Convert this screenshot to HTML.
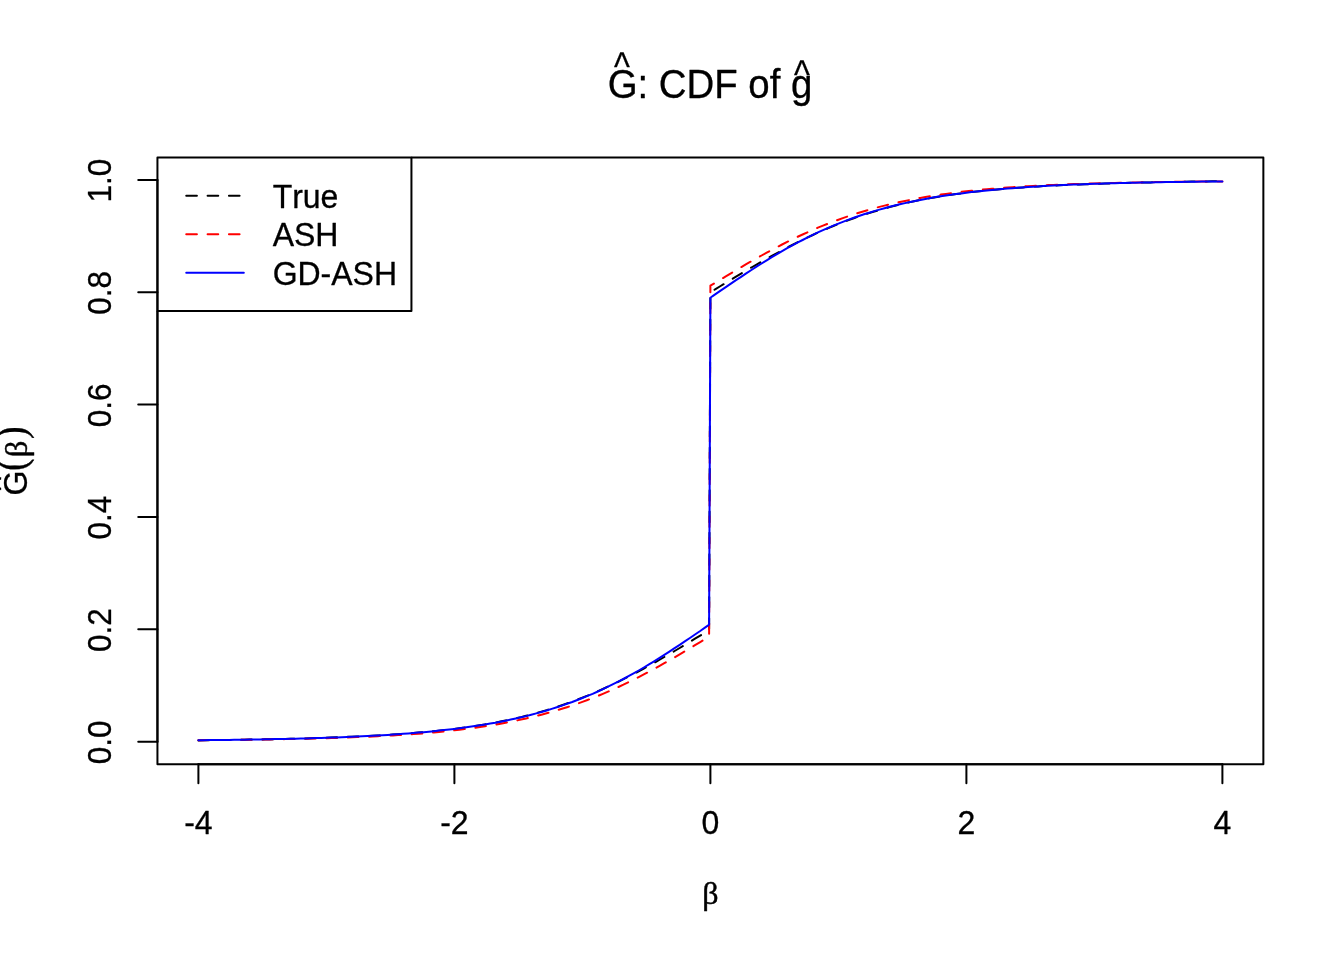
<!DOCTYPE html>
<html><head><meta charset="utf-8"><title>CDF plot</title>
<style>
html,body{margin:0;padding:0;background:#fff}
svg{display:block}
text{font-family:"Liberation Sans",sans-serif;fill:#000;stroke:#000;stroke-width:.3px;stroke-linejoin:round;font-kerning:none}
.sym{font-family:"Liberation Serif",serif;stroke-width:.45px}
.ln{fill:none;stroke-width:2;stroke-linecap:round;stroke-linejoin:round}
</style></head><body>
<svg width="1344" height="960" viewBox="0 0 1344 960">
<rect width="1344" height="960" fill="#fff"/>
<path class="ln" stroke="#000" stroke-dasharray="10.67 10.67" d="M198.4 740.4L203.5 740.3L208.6 740.3L213.8 740.2L218.9 740.1L224.0 740.1L229.1 740.0L234.2 739.9L239.4 739.8L244.5 739.7L249.6 739.6L254.7 739.5L259.8 739.5L265.0 739.3L270.1 739.2L275.2 739.1L280.3 739.0L285.4 738.9L290.6 738.8L295.7 738.6L300.8 738.5L305.9 738.4L311.0 738.2L316.2 738.0L321.3 737.9L326.4 737.7L331.5 737.5L336.6 737.3L341.8 737.1L346.9 736.9L352.0 736.7L357.1 736.5L362.2 736.3L367.4 736.0L372.5 735.7L377.6 735.5L382.7 735.2L387.8 734.9L393.0 734.5L398.1 734.2L403.2 733.8L408.3 733.5L413.4 733.1L418.6 732.6L423.7 732.2L428.8 731.7L433.9 731.2L439.0 730.7L444.2 730.1L449.3 729.6L454.4 728.9L459.5 728.3L464.6 727.6L469.8 726.9L474.9 726.1L480.0 725.3L485.1 724.4L490.2 723.5L495.4 722.6L500.5 721.6L505.6 720.6L510.7 719.5L515.8 718.3L521.0 717.1L526.1 715.8L531.2 714.5L536.3 713.1L541.4 711.6L546.6 710.1L551.7 708.5L556.8 706.9L561.9 705.2L567.0 703.4L572.2 701.5L577.3 699.6L582.4 697.6L587.5 695.6L592.6 693.4L597.8 691.2L602.9 689.0L608.0 686.6L613.1 684.2L618.2 681.8L623.4 679.2L628.5 676.6L633.6 674.0L638.7 671.3L643.8 668.5L649.0 665.7L654.1 662.9L659.2 660.0L664.3 657.0L669.4 654.1L674.6 651.0L679.7 648.0L684.8 644.9L689.9 641.8L695.0 638.7L700.2 635.6L705.3 632.5L707.8 630.9L709.1 630.1L710.4 292.3L711.7 291.5L713.0 290.7L715.5 289.1L720.6 286.0L725.8 282.9L730.9 279.8L736.0 276.7L741.1 273.6L746.2 270.6L751.4 267.5L756.5 264.6L761.6 261.6L766.7 258.7L771.8 255.9L777.0 253.1L782.1 250.3L787.2 247.6L792.3 245.0L797.4 242.4L802.6 239.8L807.7 237.4L812.8 235.0L817.9 232.6L823.0 230.4L828.2 228.2L833.3 226.0L838.4 224.0L843.5 222.0L848.6 220.1L853.8 218.2L858.9 216.4L864.0 214.7L869.1 213.1L874.2 211.5L879.4 210.0L884.5 208.5L889.6 207.1L894.7 205.8L899.8 204.5L905.0 203.3L910.1 202.1L915.2 201.0L920.3 200.0L925.4 199.0L930.6 198.1L935.7 197.2L940.8 196.3L945.9 195.5L951.0 194.7L956.2 194.0L961.3 193.3L966.4 192.7L971.5 192.0L976.6 191.5L981.8 190.9L986.9 190.4L992.0 189.9L997.1 189.4L1002.2 189.0L1007.4 188.5L1012.5 188.1L1017.6 187.8L1022.7 187.4L1027.8 187.1L1033.0 186.7L1038.1 186.4L1043.2 186.1L1048.3 185.9L1053.4 185.6L1058.6 185.3L1063.7 185.1L1068.8 184.9L1073.9 184.7L1079.0 184.5L1084.2 184.3L1089.3 184.1L1094.4 183.9L1099.5 183.7L1104.6 183.6L1109.8 183.4L1114.9 183.2L1120.0 183.1L1125.1 183.0L1130.2 182.8L1135.4 182.7L1140.5 182.6L1145.6 182.5L1150.7 182.4L1155.8 182.3L1161.0 182.1L1166.1 182.1L1171.2 182.0L1176.3 181.9L1181.4 181.8L1186.6 181.7L1191.7 181.6L1196.8 181.5L1201.9 181.5L1207.0 181.4L1212.2 181.3L1217.3 181.3L1222.4 181.2"/>
<path class="ln" stroke="#f00" stroke-dasharray="10.67 10.67" d="M198.4 740.2L203.5 740.2L208.6 740.1L213.8 740.1L218.9 740.0L224.0 740.0L229.1 739.9L234.2 739.9L239.4 739.8L244.5 739.8L249.6 739.7L254.7 739.6L259.8 739.6L265.0 739.5L270.1 739.4L275.2 739.3L280.3 739.2L285.4 739.1L290.6 739.0L295.7 738.9L300.8 738.8L305.9 738.7L311.0 738.6L316.2 738.5L321.3 738.3L326.4 738.2L331.5 738.0L336.6 737.9L341.8 737.7L346.9 737.5L352.0 737.3L357.1 737.1L362.2 736.9L367.4 736.7L372.5 736.5L377.6 736.2L382.7 736.0L387.8 735.7L393.0 735.4L398.1 735.1L403.2 734.8L408.3 734.4L413.4 734.0L418.6 733.7L423.7 733.3L428.8 732.8L433.9 732.4L439.0 731.9L444.2 731.4L449.3 730.9L454.4 730.3L459.5 729.7L464.6 729.1L469.8 728.4L474.9 727.7L480.0 727.0L485.1 726.2L490.2 725.4L495.4 724.6L500.5 723.7L505.6 722.7L510.7 721.7L515.8 720.7L521.0 719.6L526.1 718.5L531.2 717.3L536.3 716.0L541.4 714.7L546.6 713.3L551.7 711.9L556.8 710.4L561.9 708.8L567.0 707.2L572.2 705.5L577.3 703.7L582.4 701.9L587.5 700.0L592.6 698.0L597.8 696.0L602.9 693.9L608.0 691.7L613.1 689.4L618.2 687.1L623.4 684.7L628.5 682.2L633.6 679.7L638.7 677.1L643.8 674.4L649.0 671.7L654.1 668.9L659.2 666.1L664.3 663.2L669.4 660.3L674.6 657.4L679.7 654.4L684.8 651.3L689.9 648.3L695.0 645.2L700.2 642.1L705.3 639.0L707.8 637.5L709.1 636.7L710.4 285.7L711.7 284.9L713.0 284.1L715.5 282.6L720.6 279.5L725.8 276.4L730.9 273.3L736.0 270.3L741.1 267.2L746.2 264.2L751.4 261.3L756.5 258.4L761.6 255.5L766.7 252.7L771.8 249.9L777.0 247.2L782.1 244.5L787.2 241.9L792.3 239.4L797.4 236.9L802.6 234.5L807.7 232.2L812.8 229.9L817.9 227.7L823.0 225.6L828.2 223.6L833.3 221.6L838.4 219.7L843.5 217.9L848.6 216.1L853.8 214.4L858.9 212.8L864.0 211.2L869.1 209.7L874.2 208.3L879.4 206.9L884.5 205.6L889.6 204.3L894.7 203.1L899.8 202.0L905.0 200.9L910.1 199.9L915.2 198.9L920.3 197.9L925.4 197.0L930.6 196.2L935.7 195.4L940.8 194.6L945.9 193.9L951.0 193.2L956.2 192.5L961.3 191.9L966.4 191.3L971.5 190.7L976.6 190.2L981.8 189.7L986.9 189.2L992.0 188.8L997.1 188.3L1002.2 187.9L1007.4 187.6L1012.5 187.2L1017.6 186.8L1022.7 186.5L1027.8 186.2L1033.0 185.9L1038.1 185.6L1043.2 185.4L1048.3 185.1L1053.4 184.9L1058.6 184.7L1063.7 184.5L1068.8 184.3L1073.9 184.1L1079.0 183.9L1084.2 183.7L1089.3 183.6L1094.4 183.4L1099.5 183.3L1104.6 183.1L1109.8 183.0L1114.9 182.9L1120.0 182.8L1125.1 182.7L1130.2 182.6L1135.4 182.5L1140.5 182.4L1145.6 182.3L1150.7 182.2L1155.8 182.1L1161.0 182.0L1166.1 182.0L1171.2 181.9L1176.3 181.8L1181.4 181.8L1186.6 181.7L1191.7 181.7L1196.8 181.6L1201.9 181.6L1207.0 181.5L1212.2 181.5L1217.3 181.4L1222.4 181.4"/>
<path class="ln" stroke="#00f" d="M198.4 740.2L203.5 740.2L208.6 740.1L213.8 740.1L218.9 740.0L224.0 739.9L229.1 739.9L234.2 739.8L239.4 739.7L244.5 739.7L249.6 739.6L254.7 739.5L259.8 739.4L265.0 739.3L270.1 739.2L275.2 739.1L280.3 739.0L285.4 738.9L290.6 738.8L295.7 738.7L300.8 738.5L305.9 738.4L311.0 738.3L316.2 738.1L321.3 737.9L326.4 737.8L331.5 737.6L336.6 737.4L341.8 737.2L346.9 737.0L352.0 736.8L357.1 736.6L362.2 736.3L367.4 736.1L372.5 735.8L377.6 735.5L382.7 735.2L387.8 734.9L393.0 734.6L398.1 734.2L403.2 733.8L408.3 733.4L413.4 733.0L418.6 732.6L423.7 732.2L428.8 731.7L433.9 731.2L439.0 730.6L444.2 730.1L449.3 729.5L454.4 728.9L459.5 728.2L464.6 727.6L469.8 726.8L474.9 726.1L480.0 725.3L485.1 724.5L490.2 723.6L495.4 722.7L500.5 721.7L505.6 720.7L510.7 719.6L515.8 718.5L521.0 717.3L526.1 716.1L531.2 714.8L536.3 713.4L541.4 712.0L546.6 710.5L551.7 708.9L556.8 707.3L561.9 705.6L567.0 703.8L572.2 702.0L577.3 700.0L582.4 698.0L587.5 695.9L592.6 693.8L597.8 691.5L602.9 689.2L608.0 686.7L613.1 684.2L618.2 681.6L623.4 679.0L628.5 676.2L633.6 673.4L638.7 670.5L643.8 667.5L649.0 664.4L654.1 661.3L659.2 658.1L664.3 654.9L669.4 651.6L674.6 648.2L679.7 644.8L684.8 641.4L689.9 638.0L695.0 634.5L700.2 631.0L705.3 627.4L707.8 625.7L709.1 624.8L710.4 297.7L711.7 296.8L713.0 295.9L715.5 294.2L720.6 290.6L725.8 287.1L730.9 283.6L736.0 280.2L741.1 276.8L746.2 273.4L751.4 270.0L756.5 266.7L761.6 263.5L766.7 260.3L771.8 257.2L777.0 254.1L782.1 251.1L787.2 248.2L792.3 245.4L797.4 242.6L802.6 240.0L807.7 237.4L812.8 234.9L817.9 232.4L823.0 230.1L828.2 227.8L833.3 225.7L838.4 223.6L843.5 221.6L848.6 219.6L853.8 217.8L858.9 216.0L864.0 214.3L869.1 212.7L874.2 211.1L879.4 209.6L884.5 208.2L889.6 206.8L894.7 205.5L899.8 204.3L905.0 203.1L910.1 202.0L915.2 200.9L920.3 199.9L925.4 198.9L930.6 198.0L935.7 197.1L940.8 196.3L945.9 195.5L951.0 194.8L956.2 194.0L961.3 193.4L966.4 192.7L971.5 192.1L976.6 191.5L981.8 191.0L986.9 190.4L992.0 189.9L997.1 189.4L1002.2 189.0L1007.4 188.6L1012.5 188.2L1017.6 187.8L1022.7 187.4L1027.8 187.0L1033.0 186.7L1038.1 186.4L1043.2 186.1L1048.3 185.8L1053.4 185.5L1058.6 185.3L1063.7 185.0L1068.8 184.8L1073.9 184.6L1079.0 184.4L1084.2 184.2L1089.3 184.0L1094.4 183.8L1099.5 183.7L1104.6 183.5L1109.8 183.3L1114.9 183.2L1120.0 183.1L1125.1 182.9L1130.2 182.8L1135.4 182.7L1140.5 182.6L1145.6 182.5L1150.7 182.4L1155.8 182.3L1161.0 182.2L1166.1 182.1L1171.2 182.0L1176.3 181.9L1181.4 181.9L1186.6 181.8L1191.7 181.7L1196.8 181.7L1201.9 181.6L1207.0 181.5L1212.2 181.5L1217.3 181.4L1222.4 181.4"/>
<rect class="ln" stroke="#000" x="157.44" y="157.44" width="1105.92" height="606.72"/>
<rect fill="#fff" x="155.4" y="155.4" width="256.04" height="155.64"/>
<rect class="ln" stroke="#000" fill="#fff" x="157.44" y="157.44" width="254" height="153.6"/>
<g class="ln" stroke="#000">
<path d="M198.40 764.16H1222.40"/>
<path d="M198.40 764.16v19.2"/>
<path d="M454.40 764.16v19.2"/>
<path d="M710.40 764.16v19.2"/>
<path d="M966.40 764.16v19.2"/>
<path d="M1222.40 764.16v19.2"/>
<path d="M157.44 741.69V179.91"/>
<path d="M157.44 741.69h-19.2"/>
<path d="M157.44 629.33h-19.2"/>
<path d="M157.44 516.98h-19.2"/>
<path d="M157.44 404.62h-19.2"/>
<path d="M157.44 292.27h-19.2"/>
<path d="M157.44 179.91h-19.2"/>
</g>
<text transform="translate(198.40 833.8) scale(1 1.05)" font-size="32" text-anchor="middle">-4</text>
<text transform="translate(454.40 833.8) scale(1 1.05)" font-size="32" text-anchor="middle">-2</text>
<text transform="translate(710.40 833.8) scale(1 1.05)" font-size="32" text-anchor="middle">0</text>
<text transform="translate(966.40 833.8) scale(1 1.05)" font-size="32" text-anchor="middle">2</text>
<text transform="translate(1222.40 833.8) scale(1 1.05)" font-size="32" text-anchor="middle">4</text>
<text transform="translate(111 742.39) rotate(-90) scale(0.985 1.06)" font-size="32" text-anchor="middle">0.0</text>
<text transform="translate(111 630.03) rotate(-90) scale(0.985 1.06)" font-size="32" text-anchor="middle">0.2</text>
<text transform="translate(111 517.68) rotate(-90) scale(0.985 1.06)" font-size="32" text-anchor="middle">0.4</text>
<text transform="translate(111 405.32) rotate(-90) scale(0.985 1.06)" font-size="32" text-anchor="middle">0.6</text>
<text transform="translate(111 292.97) rotate(-90) scale(0.985 1.06)" font-size="32" text-anchor="middle">0.8</text>
<text transform="translate(111 180.61) rotate(-90) scale(0.985 1.06)" font-size="32" text-anchor="middle">1.0</text>
<text transform="translate(710 97.6) scale(1 1.04)" font-size="38.4" text-anchor="middle">G: CDF of g</text>
<text transform="translate(621.9 80.1) scale(0.88 1.06)" font-size="38.4" text-anchor="middle">^</text>
<text transform="translate(801.9 88.0) scale(0.88 1.06)" font-size="38.4" text-anchor="middle">^</text>
<text class="sym" x="710.4" y="904.1" font-size="32" text-anchor="middle">β</text>
<g transform="translate(27.2 0) rotate(-90)">
<text transform="translate(-495.6 0) scale(1 1.04)" font-size="32">G</text>
<text transform="translate(-483.55 -15.3) scale(0.88 1.06)" font-size="32" text-anchor="middle">^</text>
<text class="sym" transform="translate(-471 -2.1) scale(0.9 1)" font-size="42">(</text>
<text class="sym" x="-457.3" y="0" font-size="32.6">β</text>
<text class="sym" transform="translate(-439.1 -2.1) scale(0.9 1)" font-size="42">)</text>
</g>
<path class="ln" stroke="#000" stroke-dasharray="10.67 10.67" d="M186.24 195.84h57.6"/>
<path class="ln" stroke="#f00" stroke-dasharray="10.67 10.67" d="M186.24 234.24h57.6"/>
<path class="ln" stroke="#00f"  d="M186.24 272.64h57.6"/>
<text transform="translate(272.64 207.80) scale(1 1.03)" font-size="32">True</text>
<text transform="translate(272.64 246.20) scale(1 1.03)" font-size="32">ASH</text>
<text transform="translate(272.64 284.60) scale(1 1.03)" font-size="32">GD-ASH</text>
</svg>
</body></html>
